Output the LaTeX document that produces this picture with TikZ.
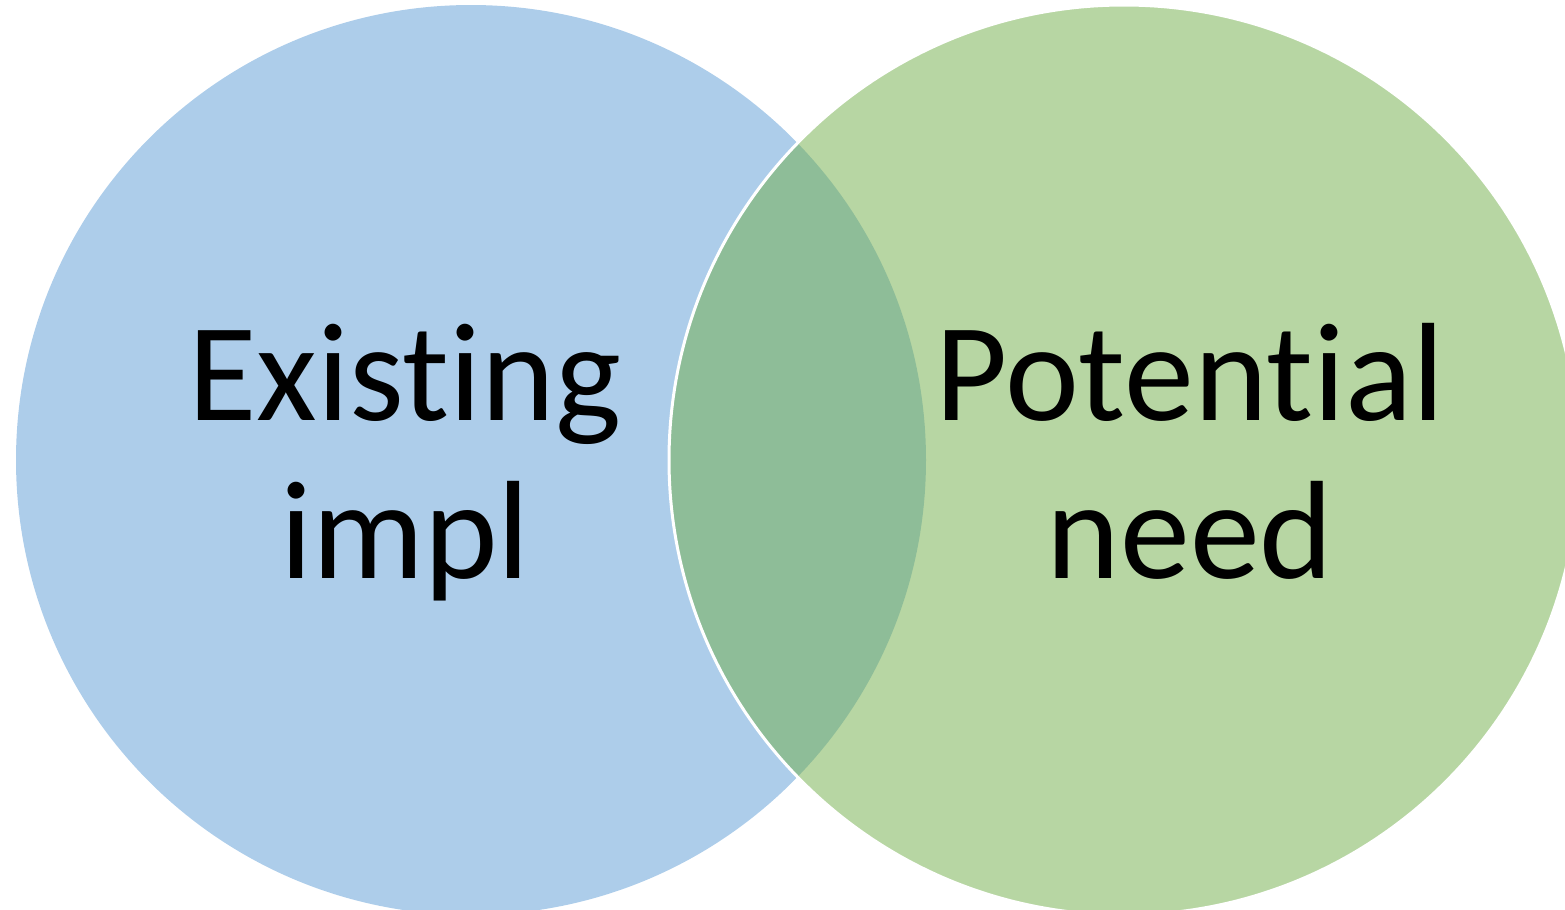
\documentclass[tikz,border=0pt]{standalone}
\usepackage{fontspec}
\setmainfont{Carlito}[Ligatures=NoCommon]
\definecolor{implblue}{HTML}{5B9BD5}
\definecolor{needgreen}{HTML}{70AD47}
\begin{document}
\begin{tikzpicture}[x=0.5pt, y=-0.5pt,
  venn/.style={circle, minimum size=455pt, inner sep=0pt, fill opacity=0.5},
  label/.style={align=center, anchor=base, font=\fontsize{70}{79}\selectfont}]

  \useasboundingbox (0,0) rectangle (1565,910);
  \clip (0,0) rectangle (1565,910);

  % Circles
  \node[venn, fill=implblue] (C1) at (471,460) {};
  \node[venn, fill=needgreen, draw=white, line width=1.5pt, draw opacity=1] (C2) at (1124,460) {};

  % Labels
  \node[label] (L1) at (405,578) {Existing\\impl};
  \node[label] (L2) at (1190,578) {Potential\\need};

\end{tikzpicture}
\end{document}
